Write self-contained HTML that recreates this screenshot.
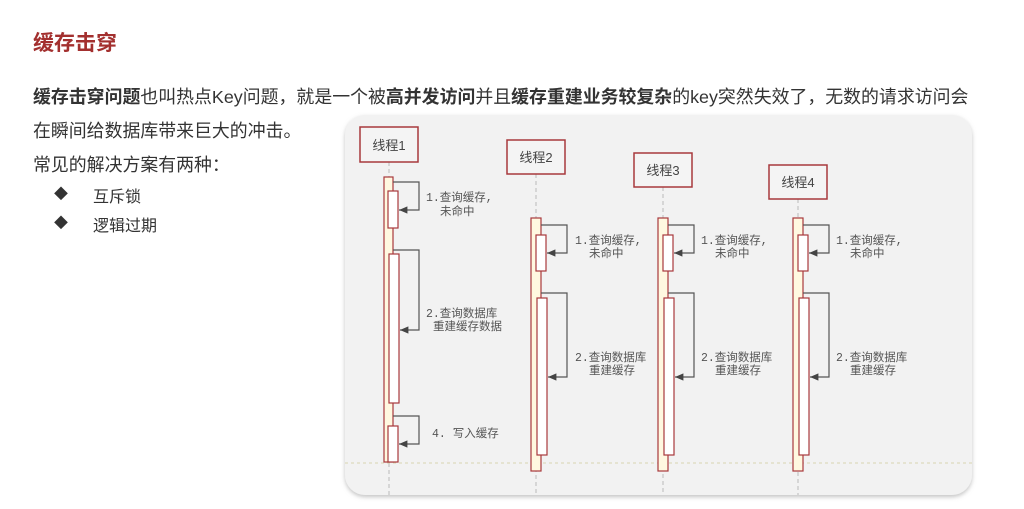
<!DOCTYPE html>
<html><head><meta charset="utf-8"><style>
body{margin:0;width:1024px;height:509px;background:#fff;position:relative;overflow:hidden;font-family:"Liberation Sans","Noto Sans CJK SC",sans-serif;color:#333}
.t{position:absolute;white-space:nowrap}
</style></head><body>
<div class="t" style="left:33px;top:27px;font-size:21px;font-weight:bold;color:#a3302f">缓存击穿</div>
<div class="t" style="left:33px;top:83px;font-size:17.9px"><b>缓存击穿问题</b>也叫热点Key问题，就是一个被<b>高并发访问</b>并且<b>缓存重建业务较复杂</b>的key突然失效了，无数的请求访问会</div>
<div class="t" style="left:33px;top:117px;font-size:17.9px">在瞬间给数据库带来巨大的冲击。</div>
<div class="t" style="left:33px;top:151px;font-size:17.9px">常见的解决方案有两种：</div>
<div class="t" style="left:54px;top:184px;font-size:14px">◆</div>
<div class="t" style="left:93px;top:183px;font-size:16px">互斥锁</div>
<div class="t" style="left:54px;top:213px;font-size:14px">◆</div>
<div class="t" style="left:93px;top:212px;font-size:16px">逻辑过期</div>
<svg width="1024" height="509" style="position:absolute;left:0;top:0">
<defs><filter id="s" x="-5%" y="-5%" width="110%" height="110%"><feDropShadow dx="0" dy="2" stdDeviation="2" flood-color="#888" flood-opacity="0.5"/></filter>
<marker id="a" markerWidth="8" markerHeight="8" refX="7" refY="4" orient="auto"><path d="M0,1 L7,4 L0,7z" fill="#444"/></marker></defs>
<rect x="345" y="115" width="627" height="380" rx="20" fill="#f2f2f2" filter="url(#s)"/>
<g stroke="#bbb" stroke-dasharray="4,3" stroke-width="1">
<line x1="389" y1="162" x2="389" y2="495"/><line x1="536" y1="174" x2="536" y2="495"/>
<line x1="663" y1="187" x2="663" y2="495"/><line x1="798" y1="199" x2="798" y2="495"/></g>
<line x1="345" y1="463" x2="972" y2="463" stroke="#d8d4b0" stroke-dasharray="3,3"/>
<g fill="#f4f4f4" stroke="#a8393c" stroke-width="1.5">
<rect x="360" y="127" width="58" height="35"/><rect x="507" y="140" width="58" height="34"/>
<rect x="634" y="153" width="58" height="34"/><rect x="769" y="165" width="58" height="34"/></g>
<g font-size="13" fill="#444" text-anchor="middle" font-family="Liberation Sans,Noto Sans CJK SC,sans-serif">
<text x="389" y="150">线程1</text><text x="536" y="162">线程2</text><text x="663" y="175">线程3</text><text x="798" y="187">线程4</text></g>
<g stroke="#a8393c" stroke-width="1.2">
<rect x="384" y="177" width="9" height="285" fill="#fff8e0"/>
<rect x="531" y="218" width="10" height="253" fill="#fff8e0"/>
<rect x="658" y="218" width="10" height="253" fill="#fff8e0"/>
<rect x="793" y="218" width="10" height="253" fill="#fff8e0"/>
<g fill="#fff">
<rect x="388" y="191" width="10" height="37"/><rect x="389" y="254" width="10" height="149"/><rect x="388" y="426" width="10" height="36"/>
<rect x="536" y="235" width="10" height="36"/><rect x="537" y="298" width="10" height="157"/>
<rect x="663" y="235" width="10" height="36"/><rect x="664" y="298" width="10" height="157"/>
<rect x="798" y="235" width="10" height="36"/><rect x="799" y="298" width="10" height="157"/></g></g>
<g stroke="#555" stroke-width="1.2" fill="none" marker-end="url(#a)">
<path d="M393 182H419V210H399"/><path d="M393 250H419V330H400"/><path d="M393 416H419V444H399"/>
<path d="M541 225H567V253H547"/><path d="M541 293H567V377H548"/>
<path d="M668 225H694V253H674"/><path d="M668 293H694V377H675"/>
<path d="M803 225H829V253H809"/><path d="M803 293H829V377H810"/></g>
<g font-size="11.5" fill="#555" font-family="Liberation Mono,Noto Sans CJK SC,monospace">
<text x="426" y="201">1.查询缓存,</text><text x="440" y="215">未命中</text>
<text x="426" y="317">2.查询数据库</text><text x="433" y="330">重建缓存数据</text>
<text x="432" y="437">4. 写入缓存</text>
<text x="575" y="244">1.查询缓存,</text><text x="589" y="257">未命中</text>
<text x="575" y="361">2.查询数据库</text><text x="589" y="374">重建缓存</text>
<text x="701" y="244">1.查询缓存,</text><text x="715" y="257">未命中</text>
<text x="701" y="361">2.查询数据库</text><text x="715" y="374">重建缓存</text>
<text x="836" y="244">1.查询缓存,</text><text x="850" y="257">未命中</text>
<text x="836" y="361">2.查询数据库</text><text x="850" y="374">重建缓存</text></g>
</svg>
</body></html>
